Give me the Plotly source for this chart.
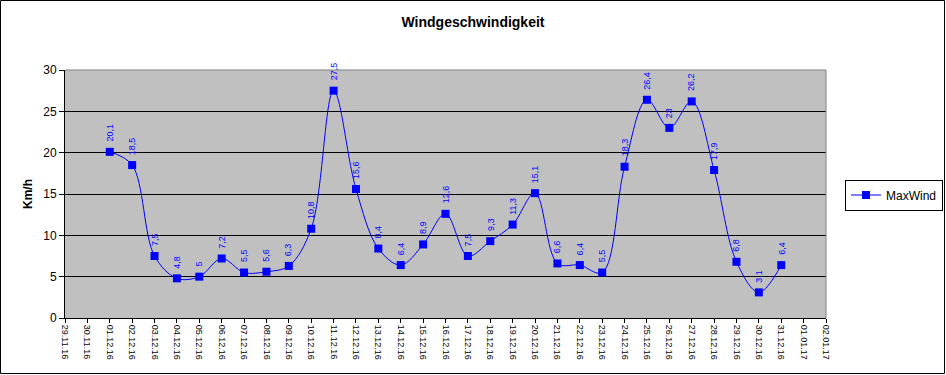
import plotly.graph_objects as go

dates = ["29.11.16", "30.11.16", "01.12.16", "02.12.16", "03.12.16", "04.12.16", "05.12.16",
         "06.12.16", "07.12.16", "08.12.16", "09.12.16", "10.12.16", "11.12.16", "12.12.16",
         "13.12.16", "14.12.16", "15.12.16", "16.12.16", "17.12.16", "18.12.16", "19.12.16",
         "20.12.16", "21.12.16", "22.12.16", "23.12.16", "24.12.16", "25.12.16", "26.12.16",
         "27.12.16", "28.12.16", "29.12.16", "30.12.16", "31.12.16", "01.01.17", "02.01.17"]
wind_dates = dates[2:33]
max_wind = [20.1, 18.5, 7.5, 4.8, 5, 7.2, 5.5, 5.6, 6.3, 10.8, 27.5, 15.6, 8.4, 6.4, 8.9,
            12.6, 7.5, 9.3, 11.3, 15.1, 6.6, 6.4, 5.5, 18.3, 26.4, 23, 26.2, 17.9, 6.8, 3.1, 6.4]
y_ticks = [0, 5, 10, 15, 20, 25, 30]

FONT = "Liberation Sans, Arial, sans-serif"
BLUE = "#0000FF"

fig = go.Figure()
fig.add_trace(go.Scatter(
    x=wind_dates, y=max_wind, name="MaxWind", mode="lines+markers",
    line=dict(color=BLUE, width=1, shape="spline", smoothing=1.0),
    marker=dict(symbol="square", size=8, color=BLUE),
))

def fmt(v):
    s = ("%g" % v)
    return s.replace(".", ",")

for d, v in zip(wind_dates, max_wind):
    fig.add_annotation(x=d, y=v, text=fmt(v), showarrow=False, textangle=-90,
                       yanchor="bottom", xanchor="center", yshift=8,
                       font=dict(family=FONT, size=9, color=BLUE))

L, R, T, B = 65, 120, 70, 57
W, H = 946, 375
pw, ph = W - L - R, H - T - B

# plot-area frame: grey top and right edges
fig.add_shape(type="line", xref="paper", yref="paper", x0=0, x1=1, y0=1, y1=1,
              line=dict(color="#808080", width=1), layer="above")
fig.add_shape(type="line", xref="paper", yref="paper", x0=1, x1=1, y0=0, y1=1,
              line=dict(color="#808080", width=1), layer="above")
# outer chart border
fig.add_shape(type="rect", xref="paper", yref="paper",
              x0=-(L - 0.5) / pw, x1=1 + (R - 1.5) / pw,
              y0=-(B - 1.5) / ph, y1=1 + (T - 0.5) / ph,
              line=dict(color="black", width=1), layer="above")

fig.update_layout(
    width=W, height=H,
    margin=dict(l=L, r=R, t=T, b=B, autoexpand=False),
    paper_bgcolor="white", plot_bgcolor="#C0C0C0",
    font=dict(family=FONT, color="black"),
    title=dict(text="<b>Windgeschwindigkeit</b>", x=0.5, xanchor="center",
               y=1 - 22 / H, yanchor="middle", font=dict(size=14, family=FONT)),
    showlegend=True,
    legend=dict(x=(845 - L) / pw, y=(318 - 195) / ph, xanchor="left", yanchor="middle",
                bordercolor="black", borderwidth=1, bgcolor="white",
                font=dict(size=12, family=FONT), itemwidth=30),
    xaxis=dict(type="category", categoryorder="array", categoryarray=dates,
               tickvals=dates, ticktext=dates, range=[0, len(dates) - 1],
               tickangle=90, tickfont=dict(size=9, family=FONT),
               ticks="outside", ticklen=4, tickcolor="black",
               showline=True, linecolor="black", linewidth=1,
               showgrid=False, zeroline=False, automargin=False),
    yaxis=dict(range=[0, 30], tickvals=y_ticks, tickfont=dict(size=12, family=FONT),
               ticks="outside", ticklen=5, tickcolor="black",
               showline=True, linecolor="black", linewidth=1,
               showgrid=True, gridcolor="black", gridwidth=1, zeroline=False,
               automargin=False,
               title=dict(text="<b>Km/h</b>", font=dict(size=12, family=FONT), standoff=8)),
)

fig.write_html("out.html", config={"displayModeBar": False},
               post_script="document.body.style.margin='0px';document.body.style.overflow='hidden';")
